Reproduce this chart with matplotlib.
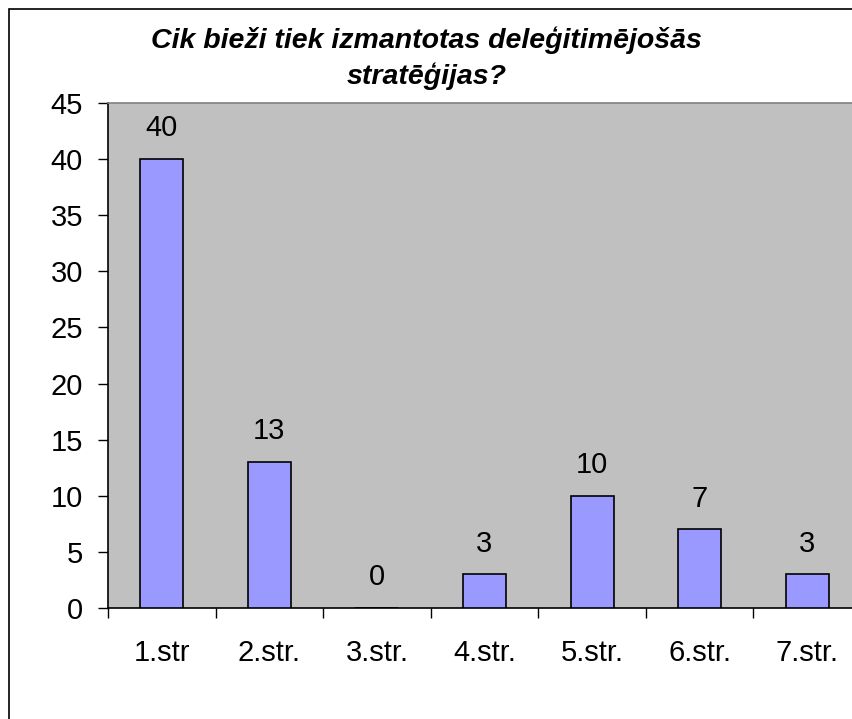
import matplotlib
matplotlib.use('Agg')
from matplotlib import pyplot as plt
from matplotlib.patches import Rectangle

plt.rcParams['font.family'] = ['Liberation Sans', 'DejaVu Sans']

categories = ['1.str', '2.str.', '3.str.', '4.str.', '5.str.', '6.str.', '7.str.']
values = [40, 13, 0, 3, 10, 7, 3]
title = 'Cik bieži tiek izmantotas deleģitimējošās\nstratēģijas?'

fig = plt.figure(figsize=(8.53, 7.19), dpi=100)
ax = fig.add_axes([108 / 853, 1 - 608 / 719, 753 / 853, 505 / 719])
ax.set_facecolor('#C0C0C0')

x = list(range(len(categories)))
ax.bar(x, values, width=0.4, color='#9999FF', edgecolor='black', linewidth=1.2, zorder=3)

for xi, v in zip(x, values):
    ax.annotate(str(v), (xi, v), xytext=(0, 12), textcoords='offset points',
                ha='center', va='bottom', fontsize=21)

ax.set_xlim(-0.5, len(categories) - 0.5)
ax.set_ylim(0, 45)
ax.set_yticks(range(0, 46, 5))
ax.tick_params(axis='y', direction='out', length=7, width=1, labelsize=21, pad=11)

# category boundaries as major ticks, labels on minor ticks
ax.set_xticks([i - 0.5 for i in range(len(categories) + 1)])
ax.set_xticklabels([])
ax.set_xticks(x, minor=True)
ax.set_xticklabels(categories, minor=True)
ax.tick_params(axis='x', which='major', direction='out', length=7, width=1)
ax.tick_params(axis='x', which='minor', length=0, labelsize=21, pad=22)

for s in ['left', 'bottom']:
    ax.spines[s].set_color('black')
    ax.spines[s].set_linewidth(1.2)
for s in ['top', 'right']:
    ax.spines[s].set_color('#808080')
    ax.spines[s].set_linewidth(1.2)

fig.text(0.5, 1 - 26 / 719, title, ha='center', va='top', fontsize=20.5,
         fontweight='bold', fontstyle='italic', linespacing=1.42)

# outer chart border
fig.add_artist(Rectangle((9 / 853, -0.1), 1.2, 1.1 - 9 / 719, transform=fig.transFigure,
                         fill=False, edgecolor='black', linewidth=1.2))

plt.savefig('out.png', dpi=100)
